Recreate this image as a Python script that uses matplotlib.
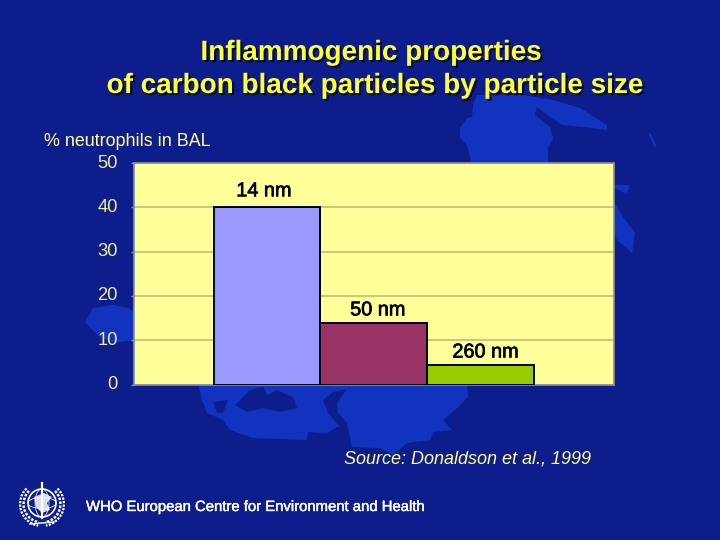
import numpy as np
import matplotlib
matplotlib.use('Agg')
import matplotlib.pyplot as plt
import matplotlib.patheffects as pe
from matplotlib.patches import Polygon, Circle, Ellipse
from matplotlib.transforms import ScaledTranslation

plt.rcParams['font.family'] = ['Liberation Sans', 'DejaVu Sans']

labels = ['14 nm', '50 nm', '260 nm']
values = [40, 13.8, 4.3]
colors = ['#9999FF', '#993366', '#99CC00']
yticks = [0, 10, 20, 30, 40, 50]

W, H = 720, 540
bg = '#0D1E8C'
land = '#1233C0'
pale = '#FFFF99'

fig = plt.figure(figsize=(7.2, 5.4), dpi=100, facecolor=bg)

# full figure layer in pixel coords, y down, for the backdrop and logo
back = fig.add_axes([0, 0, 1, 1], zorder=0)
back.set_xlim(0, W)
back.set_ylim(H, 0)
back.axis('off')

land_shapes = [
    [(472, 165), (467, 145), (460, 138), (460, 128), (467, 118), (472, 117), (473, 105), (477, 95),
     (523, 95), (537, 105), (535, 115), (550, 127), (553, 138), (548, 148), (548, 165)],
    [(523, 95), (553, 100), (580, 108), (607, 125), (607, 130), (583, 127), (563, 125), (550, 117), (537, 107)],
    [(612, 198), (623, 217), (635, 233), (632, 253), (617, 240), (612, 230)],
    [(612, 185), (630, 185), (627, 193), (612, 188)],
    [(648, 133), (651, 134), (657, 148), (654, 146)],
    [(85, 322), (93, 308), (113, 305), (128, 308), (135, 313), (135, 340), (113, 343), (100, 337), (90, 328)],
    [(198, 383), (202, 400), (207, 413), (223, 420), (230, 430), (253, 438), (307, 440), (308, 432),
     (327, 433), (337, 427), (347, 423), (352, 447), (380, 448), (393, 455), (407, 443), (430, 440),
     (433, 432), (452, 430), (443, 420), (457, 408), (468, 397), (467, 383)],
]
seas = [
    [(235, 405), (250, 390), (263, 387), (267, 395), (277, 390), (293, 397), (297, 408), (280, 412), (263, 408), (247, 412)],
    [(323, 400), (333, 392), (347, 389), (337, 403), (338, 413), (347, 423), (340, 427), (328, 413)],
    [(213, 402), (228, 400), (223, 413), (217, 413)],
]
for b in land_shapes:
    back.add_patch(Polygon(b, closed=True, fc=land, ec='none'))
for b in seas:
    back.add_patch(Polygon(b, closed=True, fc=bg, ec='none'))

# WHO emblem
cx, cy = 42, 503
back.add_patch(Circle((cx, cy), 14, fc='none', ec='white', lw=1.2))
back.add_patch(Ellipse((cx, cy), 14, 28, fc='none', ec='white', lw=0.5))
back.add_patch(Ellipse((cx, cy), 28, 11, fc='none', ec='white', lw=0.5))
back.add_patch(Polygon([(34, 497), (44, 493), (52, 497), (47, 503), (50, 510), (42, 513), (36, 507)],
                       fc='white', ec='none', alpha=0.85))
back.plot([cx, cx], [483, 518], color='white', lw=1.6)
for side in (-1, 1):
    for r, lw in ((18.5, 1.8), (22, 1.6)):
        a = np.radians(np.linspace(-45, 80, 12))
        back.plot(cx + side * r * np.cos(a), cy + 1 + r * np.sin(a), color='white', lw=lw, ls=(0, (1.0, 0.6)))
back.plot([30, 54], [524, 522], color='white', lw=1)

ax = fig.add_axes([133.5 / W, 1 - 384.5 / H, 480.5 / W, 221.5 / H], zorder=1)
ax.set_facecolor(pale)
x = np.arange(len(values))
ax.bar(x, values, width=1.0, color=colors, edgecolor='black', linewidth=1.4, zorder=3)
ax.set_xlim(-1.25, 3.25)
ax.set_ylim(0, 50)
ax.set_yticks(yticks)
ax.set_xticks([])
ax.grid(axis='y', color='#BDBD7A', linewidth=1.2, zorder=1)
ax.tick_params(axis='y', length=2.2, width=1, color='#8A8FA0', pad=9, labelsize=13.2, labelcolor='#EDED94')
for s in ax.spines.values():
    s.set_color('#8A8FA0')
    s.set_linewidth(1.2)
up = ScaledTranslation(0, 2 / 72 * 0.72, fig.dpi_scale_trans)
for lab in ax.get_yticklabels():
    lab.set_transform(lab.get_transform() + up)

# label nudges in px from the bar's top centre
nudge_x = [-3, 4, 5]
nudge_y = [7, 4, 4]
for xi, v, lab, nx, ny in zip(x, values, labels, nudge_x, nudge_y):
    ax.annotate(lab, (xi, v), xytext=(nx * 0.72, ny * 0.72), textcoords='offset points',
                ha='center', va='bottom', fontsize=14.3, color='black', zorder=4,
                path_effects=[pe.withStroke(linewidth=0.5, foreground='black')])

title_font = dict(fontsize=20.1, fontweight='bold', color='#FFFF33', ha='center', va='center')
t1 = fig.text(371.5 / W, 1 - 53 / H, 'Inflammogenic properties', **title_font)
t2 = fig.text(376 / W, 1 - 86 / H, 'of carbon black particles by particle size', **title_font)
for t in (t1, t2):
    t.set_path_effects([pe.withSimplePatchShadow(offset=(1.5, -1.5), shadow_rgbFace='black', alpha=0.7)])

fig.text(44 / W, 1 - 142 / H, '% neutrophils in BAL', fontsize=12.9, color=pale, ha='left', va='center')
fig.text(344 / W, 1 - 459.5 / H, 'Source: Donaldson et al., 1999', fontsize=13, style='italic',
         color=pale, ha='left', va='center')
fig.text(86 / W, 1 - 507 / H, 'WHO European Centre for Environment and Health', fontsize=10.7,
         color='white', ha='left', va='center',
         path_effects=[pe.withStroke(linewidth=0.3, foreground='white')])

fig.savefig('out.png', dpi=100, facecolor=bg)
